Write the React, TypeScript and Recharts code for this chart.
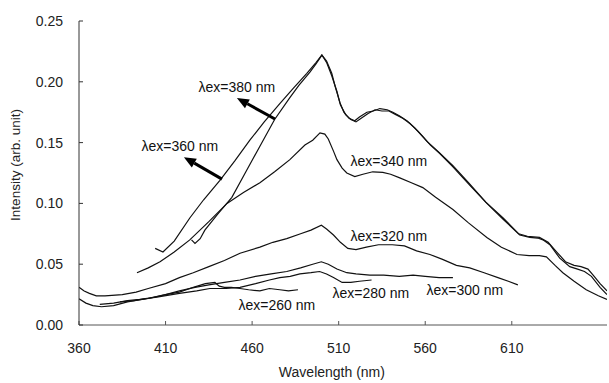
import React from 'react';
import { LineChart, Line, XAxis, YAxis, ReferenceDot, ReferenceLine, Label } from 'recharts';

const FONT = '"Liberation Sans", Arial, Helvetica, sans-serif';

const xTicks = [360, 410, 460, 510, 560, 610];
const yTicks = [0, 0.05, 0.1, 0.15, 0.2, 0.25];

const ex380: [number, number][] = [
  [425, 0.070], [427, 0.067], [430, 0.071], [432.7, 0.078], [440, 0.091], [448.3, 0.105], [456, 0.125],
  [464.5, 0.147], [473, 0.169], [481.8, 0.187], [487, 0.197], [493.4, 0.208], [497, 0.215], [500.3, 0.222],
  [503, 0.216], [506, 0.205], [509, 0.192], [511, 0.181], [514, 0.173], [517, 0.169], [520, 0.167],
  [523, 0.170], [527, 0.174], [531, 0.177], [535, 0.176], [539, 0.176], [543, 0.173], [547, 0.170],
  [551, 0.166], [556, 0.159], [561, 0.151], [568, 0.142], [576, 0.131], [585, 0.117], [595, 0.101],
  [605, 0.088], [614, 0.075], [619, 0.073], [626, 0.072], [631, 0.068], [636, 0.060], [641, 0.052],
  [646, 0.049], [650, 0.048], [654, 0.046], [657, 0.041], [661, 0.034], [665, 0.028],
];

const ex360: [number, number][] = [
  [404, 0.063], [408.5, 0.060], [415, 0.069], [424, 0.088], [432, 0.103], [441.4, 0.119], [450, 0.135],
  [458.7, 0.152], [467, 0.167], [476, 0.182], [484, 0.195], [491.6, 0.207], [497, 0.216], [500.3, 0.222],
  [503, 0.217], [506, 0.207], [508, 0.196], [510.7, 0.183], [513, 0.175], [516, 0.170], [519.3, 0.168],
  [522, 0.171], [526.3, 0.175], [530, 0.176], [533.8, 0.178], [538, 0.177], [541.3, 0.175], [545, 0.172],
  [549.4, 0.168], [554, 0.162], [558.6, 0.155], [563, 0.148], [568.4, 0.141], [576, 0.130], [585, 0.116],
  [595.6, 0.100], [605, 0.087], [614.6, 0.074], [620.4, 0.072], [625, 0.0715], [628, 0.070], [632, 0.066],
  [637.7, 0.055], [643.5, 0.048], [648, 0.046], [652, 0.044], [656, 0.040], [661, 0.031], [665, 0.025],
];

const ex340: [number, number][] = [
  [393.5, 0.043], [400, 0.047], [406.8, 0.052], [415, 0.060], [424, 0.070], [435, 0.085], [445.5, 0.100],
  [455, 0.109], [464.5, 0.117], [473, 0.126], [481.8, 0.136], [490.5, 0.148], [495, 0.152], [499.2, 0.158],
  [502, 0.157], [504, 0.153], [507, 0.143], [509, 0.136], [512, 0.129], [514.7, 0.125], [519.3, 0.122],
  [524, 0.124], [529.7, 0.126], [535.5, 0.1255], [540, 0.124], [545.3, 0.121], [552, 0.117], [558.6, 0.113],
  [566, 0.105], [576, 0.095], [585, 0.084], [595.6, 0.072], [604, 0.064], [613, 0.058], [620, 0.057],
  [626, 0.057], [630, 0.056], [635, 0.049], [639.5, 0.043], [646, 0.036], [653, 0.029], [660, 0.024], [665, 0.021],
];

const ex320: [number, number][] = [
  [360, 0.031], [363, 0.028], [366, 0.026], [370, 0.024], [375, 0.024], [385, 0.025], [393, 0.027],
  [400, 0.030], [410, 0.034], [418, 0.039], [426, 0.043], [435, 0.048], [444, 0.053], [453, 0.059],
  [464.5, 0.064], [472, 0.068], [480, 0.071], [488, 0.075], [494, 0.078], [500, 0.082], [503, 0.079],
  [507, 0.074], [511, 0.068], [515.3, 0.063], [520, 0.062], [526, 0.064], [533, 0.066], [541, 0.066],
  [548, 0.065], [555, 0.061], [562.7, 0.058], [570, 0.054], [578, 0.049], [585.7, 0.047], [594, 0.043],
  [602, 0.039], [608, 0.036], [613.5, 0.033],
];

const ex300: [number, number][] = [
  [360, 0.0215], [364, 0.018], [368, 0.016], [373, 0.015], [380, 0.016], [388, 0.019], [400, 0.022],
  [410, 0.025], [418, 0.028], [427, 0.031], [435, 0.033], [444, 0.035], [453, 0.037], [462, 0.040],
  [471, 0.042], [480, 0.044], [488, 0.047], [495, 0.050], [500, 0.052], [504, 0.050], [509, 0.046],
  [514.7, 0.043], [520, 0.042], [528, 0.041], [536, 0.041], [545, 0.040], [553, 0.041], [560, 0.040],
  [568, 0.039], [576, 0.039],
];

const ex280: [number, number][] = [
  [372, 0.017], [380, 0.018], [388, 0.020], [395, 0.021], [405, 0.023], [418, 0.026], [428, 0.028],
  [435.6, 0.030], [445, 0.030], [453, 0.031], [462, 0.034], [470, 0.037], [476, 0.039], [482, 0.040],
  [487.6, 0.042], [494, 0.043], [499, 0.044], [503, 0.042], [507, 0.039], [512, 0.035], [517, 0.035],
  [522, 0.036], [529, 0.037],
];

const ex260: [number, number][] = [
  [383.7, 0.019], [392, 0.020], [401, 0.022], [410, 0.025], [418, 0.027], [426, 0.031], [433, 0.034],
  [438.5, 0.035], [441, 0.032], [444, 0.031], [448, 0.031], [453, 0.030], [458, 0.029], [464.5, 0.028],
  [470, 0.030], [476, 0.029], [481, 0.028], [486.5, 0.029],
];

const seriesList = [
  { key: '380', points: ex380 },
  { key: '360', points: ex360 },
  { key: '340', points: ex340 },
  { key: '320', points: ex320 },
  { key: '300', points: ex300 },
  { key: '280', points: ex280 },
  { key: '260', points: ex260 },
];

const seriesLabels = [
  { text: 'λex=380 nm', x: 451.2, y: 0.1957 },
  { text: 'λex=360 nm', x: 418.3, y: 0.147 },
  { text: 'λex=340 nm', x: 539, y: 0.135 },
  { text: 'λex=320 nm', x: 539, y: 0.0732 },
  { text: 'λex=280 nm', x: 528.6, y: 0.0263 },
  { text: 'λex=300 nm', x: 582.9, y: 0.0288 },
  { text: 'λex=260 nm', x: 474.3, y: 0.0164 },
];

const arrows = [
  { from: { x: 473.2, y: 0.1694 }, to: { x: 451.2, y: 0.1867 } },
  { from: { x: 442.6, y: 0.120 }, to: { x: 420.6, y: 0.138 } },
];

const ArrowShape = (p: any) => {
  const { x1, y1, x2, y2 } = p;
  const ang = Math.atan2(y2 - y1, x2 - x1);
  const hl = 12;
  const hw = 5;
  const bx = x2 - hl * Math.cos(ang);
  const by = y2 - hl * Math.sin(ang);
  const px = -Math.sin(ang) * hw;
  const py = Math.cos(ang) * hw;
  return (
    <g>
      <line x1={x1} y1={y1} x2={bx} y2={by} stroke="#000" strokeWidth={3} />
      <polygon points={`${x2},${y2} ${bx + px},${by + py} ${bx - px},${by - py}`} fill="#000" />
    </g>
  );
};

const XTitle = (props: any) => {
  const vb = props.viewBox;
  return (
    <text x={vb.x + vb.width * 0.479} y={vb.y + 52} textAnchor="middle" fontFamily={FONT} fontSize={14} fill="#222">
      Wavelength (nm)
    </text>
  );
};

const YTitle = (props: any) => {
  const vb = props.viewBox;
  const x = vb.x + 20;
  const y = vb.y + vb.height / 2 - 8;
  return (
    <text x={x} y={y} transform={`rotate(-90 ${x} ${y})`} textAnchor="middle" fontFamily={FONT} fontSize={13.5} fill="#222">
      Intensity (arb. unit)
    </text>
  );
};

export default function App() {
  return (
    <div style={{ position: 'absolute', left: 0, top: 0, width: 609, height: 383, background: '#fff' }}>
      <LineChart width={609} height={383} margin={{ top: 21, right: 2, bottom: 0, left: 0 }}>
        <XAxis
          type="number"
          dataKey="x"
          domain={[360, 665]}
          ticks={xTicks}
          allowDataOverflow
          height={58}
          tickSize={-4}
          tickMargin={22}
          axisLine={{ stroke: '#555', strokeWidth: 1 }}
          tickLine={{ stroke: '#555' }}
          tick={{ fill: '#222', fontSize: 14, fontFamily: FONT }}
        >
          <Label content={XTitle} />
        </XAxis>
        <YAxis
          type="number"
          domain={[0, 0.25]}
          ticks={yTicks}
          allowDataOverflow
          width={79}
          tickSize={-4}
          tickMargin={20}
          tickFormatter={(v: number) => v.toFixed(2)}
          axisLine={{ stroke: '#333', strokeWidth: 1 }}
          tickLine={{ stroke: '#333' }}
          tick={{ fill: '#222', fontSize: 14, fontFamily: FONT }}
        >
          <Label content={YTitle} />
        </YAxis>
        {seriesList.map((s) => (
          <Line
            key={s.key}
            data={s.points.map(([x, y]) => ({ x, y }))}
            dataKey="y"
            type="linear"
            stroke="#111"
            strokeWidth={1.2}
            dot={false}
            activeDot={false}
            isAnimationActive={false}
          />
        ))}
        {arrows.map((a, i) => (
          <ReferenceLine key={'a' + i} segment={[a.from, a.to]} shape={ArrowShape} ifOverflow="visible" />
        ))}
        {seriesLabels.map((l) => (
          <ReferenceDot
            key={l.text}
            x={l.x}
            y={l.y}
            r={0}
            fill="none"
            stroke="none"
            ifOverflow="visible"
            label={{ value: l.text, position: 'center', fontSize: 14, fontFamily: FONT, fill: '#111' }}
          />
        ))}
      </LineChart>
    </div>
  );
}
